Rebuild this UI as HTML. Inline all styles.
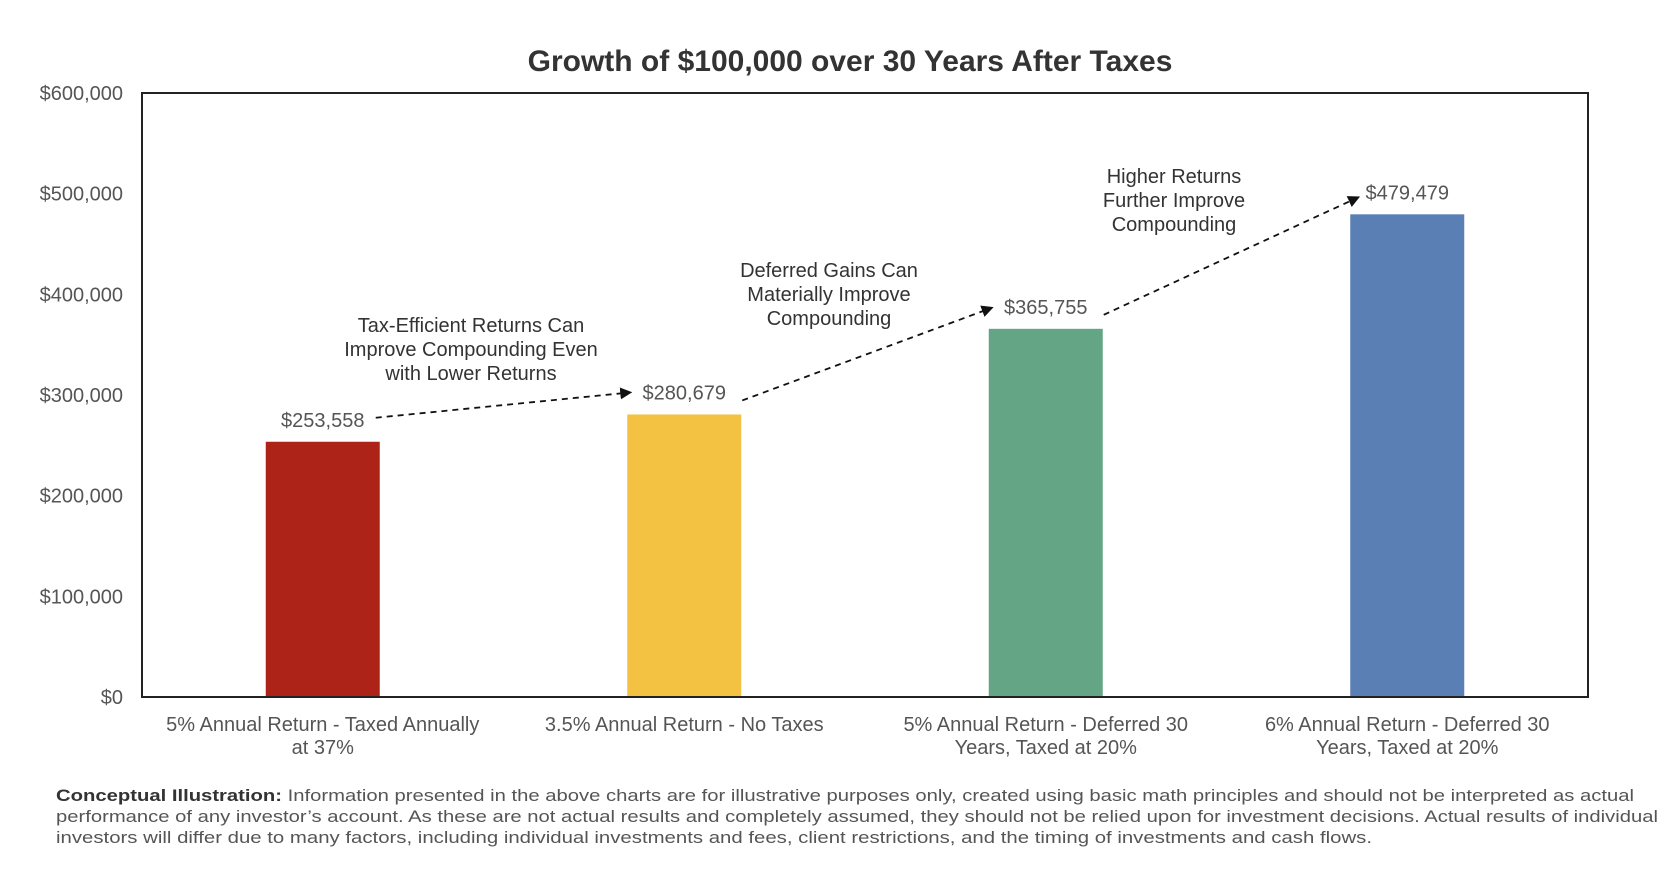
<!DOCTYPE html>
<html><head><meta charset="utf-8"><style>
html,body{margin:0;padding:0;background:#fff;}
svg{display:block;font-family:"Liberation Sans",sans-serif;}
</style></head><body>
<svg id="chart" width="1676" height="870" viewBox="0 0 1676 870">
<defs><marker id="ah" markerWidth="12" markerHeight="12" refX="10" refY="6" orient="auto" markerUnits="userSpaceOnUse"><path d="M0,0 L12,6 L0,12 z" fill="#111"/></marker></defs>
<text x="850" y="71" text-anchor="middle" font-size="30" font-weight="bold" fill="#333">Growth of $100,000 over 30 Years After Taxes</text>
<g id="yaxis"></g>
<g id="bars"></g>
<rect x="142" y="93" width="1446" height="604" fill="none" stroke="#222" stroke-width="2"/>
<g id="xaxis"></g>
<g id="ann"></g>
<g font-size="16.5" fill="#555">
<text x="56" y="801" textLength="1578" lengthAdjust="spacingAndGlyphs"><tspan font-weight="bold" fill="#333">Conceptual Illustration:</tspan> Information presented in the above charts are for illustrative purposes only, created using basic math principles and should not be interpreted as actual</text>
<text x="56" y="822" textLength="1602" lengthAdjust="spacingAndGlyphs">performance of any investor’s account. As these are not actual results and completely assumed, they should not be relied upon for investment decisions. Actual results of individual</text>
<text x="56" y="843" textLength="1316" lengthAdjust="spacingAndGlyphs">investors will differ due to many factors, including individual investments and fees, client restrictions, and the timing of investments and cash flows.</text>
</g>
</svg>
<script>
const categories = [["5% Annual Return - Taxed Annually","at 37%"],["3.5% Annual Return - No Taxes"],["5% Annual Return - Deferred 30","Years, Taxed at 20%"],["6% Annual Return - Deferred 30","Years, Taxed at 20%"]];
const values = [253558, 280679, 365755, 479479];
const valueLabels = ["$253,558","$280,679","$365,755","$479,479"];
const barColors = ["#ae2318","#f4c243","#64a586","#5a7fb5"];
const yTicks = [0,100000,200000,300000,400000,500000,600000];
const yTickLabels = ["$0","$100,000","$200,000","$300,000","$400,000","$500,000","$600,000"];
const annotations = [["Tax-Efficient Returns Can","Improve Compounding Even","with Lower Returns"],["Deferred Gains Can","Materially Improve","Compounding"],["Higher Returns","Further Improve","Compounding"]];

const NS="http://www.w3.org/2000/svg";
const L=142,R=1588,T=93,B=697,YMAX=600000;
const y=v=>B-(v/YMAX)*(B-T);
const band=(R-L)/categories.length;
const cx=i=>L+band*(i+0.5);
const BW=114;
function mk(tag,attrs,parent,txt){const e=document.createElementNS(NS,tag);for(const k in attrs)e.setAttribute(k,attrs[k]);if(txt!=null)e.textContent=txt;parent.appendChild(e);return e;}
const ya=document.getElementById('yaxis');
yTicks.forEach((t,i)=>{const e=mk('text',{x:123,y:y(t)+7,'text-anchor':'end','font-size':20,fill:'#555'},ya,yTickLabels[i]);

});
const bg=document.getElementById('bars');
values.forEach((v,i)=>{const r=mk('rect',{x:cx(i)-BW/2,y:y(v),width:BW,height:B-y(v),fill:barColors[i]},bg);


const t=mk('text',{x:cx(i),y:y(v)-15,'text-anchor':'middle','font-size':20,fill:'#555'},bg,valueLabels[i]);

});
const xa=document.getElementById('xaxis');
categories.forEach((c,i)=>{c.forEach((line,j)=>{const t=mk('text',{x:cx(i),y:731+j*23,'text-anchor':'middle','font-size':20,fill:'#555'},xa,line);

});});
const an=document.getElementById('ann');
const annPos=[[471,332],[829,277],[1174,183]];
annotations.forEach((a,i)=>{a.forEach((line,j)=>{const t=mk('text',{x:annPos[i][0],y:annPos[i][1]+j*24,'text-anchor':'middle','font-size':20,fill:'#333'},an,line);

});});
for(let i=0;i<values.length-1;i++){
  const x1=cx(i)+(i==0?53:58), y1=y(values[i])-(i==0?24:14);
  const x2=cx(i+1)-(i==2?49:54), y2=y(values[i+1])-(i==0?22:(i==1?21:17));
  const l=mk('line',{x1:x1,y1:y1,x2:x2,y2:y2,stroke:'#111','stroke-width':1.8,'stroke-dasharray':'6,5','marker-end':'url(#ah)'},an);
  
  
}
</script>
</body></html>
